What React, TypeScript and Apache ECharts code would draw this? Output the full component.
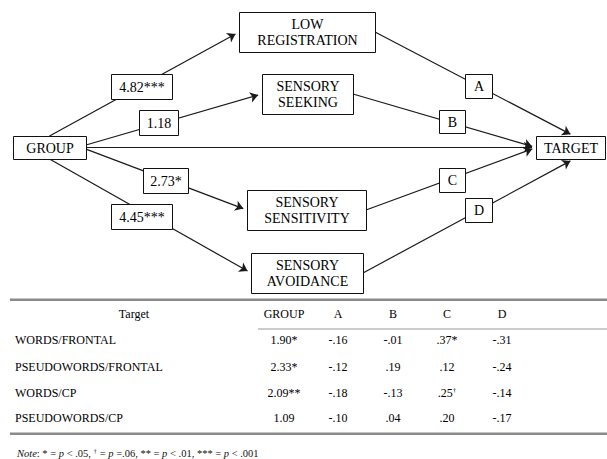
import React, { useEffect, useRef } from "react";
import * as echarts from "echarts";

// ---- Diagram content ----
const predictor = "GROUP";
const outcome = "TARGET";
const mediators = ["LOW\nREGISTRATION", "SENSORY\nSEEKING", "SENSORY\nSENSITIVITY", "SENSORY\nAVOIDANCE"];
const aPathLabels = ["4.82***", "1.18", "2.73*", "4.45***"];
const bPathLabels = ["A", "B", "C", "D"];

// ---- Table content ----
const tableHeader = ["Target", "GROUP", "A", "B", "C", "D"];
const tableTargets = ["WORDS/FRONTAL", "PSEUDOWORDS/FRONTAL", "WORDS/CP", "PSEUDOWORDS/CP"];
const groupCoef = ["1.90*", "2.33*", "2.09**", "1.09"];
const aCoef = ["-.16", "-.12", "-.18", "-.10"];
const bCoef = ["-.01", ".19", "-.13", ".04"];
const cCoef = [".37*", ".12", ".25†", ".20"];
const dCoef = ["-.31", "-.24", "-.14", "-.17"];

// ---- Layout (positions in diagram units = px) ----
const W = 607;
const H = 459;
const predictorBox = [13, 136, 73, 23];
const outcomeBox = [536, 136, 69, 23];
const mediatorBoxes = [
  [239, 12, 136, 40],
  [262, 74, 91, 40],
  [247, 190, 119, 40],
  [251, 253, 112, 40],
];
const aLabelBoxes = [
  [111, 74, 61, 25],
  [139, 110, 39, 25],
  [143, 168, 45, 25],
  [111, 204, 61, 25],
];
const bLabelBoxes = [
  [465, 74, 27, 24],
  [439, 110, 26, 23],
  [439, 168, 26, 24],
  [465, 198, 27, 24],
];
const aStart = [[0.5, 0], [1, 0.39], [1, 0.57], [0.5, 1]];
const bEnd = [[0.55, 0], [0, 0.5], [0, 0.5], [0.55, 1]];
const colX = [134, 284, 338, 393, 447, 502];
const rowLabelX = 15;
const headerY = 314;
const rowY = [340, 367, 393, 418];

const serif = "Liberation Serif";

function anchor(b: number[], f: number[]) {
  return [b[0] + b[2] * f[0], b[1] + b[3] * f[1]];
}
function shorten(p0: number[], p1: number[], d: number) {
  const dx = p1[0] - p0[0];
  const dy = p1[1] - p0[1];
  const L = Math.sqrt(dx * dx + dy * dy);
  return [p1[0] - (dx / L) * d, p1[1] - (dy / L) * d];
}

let measureCtx: CanvasRenderingContext2D | null = null;
function measure(text: string, size: number, style = "normal") {
  if (!measureCtx) measureCtx = document.createElement("canvas").getContext("2d");
  if (!measureCtx) return text.length * size * 0.5;
  measureCtx.font = `${style} ${size}px "${serif}"`;
  return measureCtx.measureText(text).width;
}

export default function App() {
  const ref = useRef<HTMLDivElement>(null);
  useEffect(() => {
    if (!ref.current) return;
    const chart = echarts.init(ref.current, undefined, { renderer: "svg" });
    const arrowLen = 8;

    const edges: number[][][] = [];
    mediators.forEach((_, i) => {
      const s = anchor(predictorBox, aStart[i]);
      const e = anchor(mediatorBoxes[i], [0, 0.5]);
      edges.push([s, shorten(s, e, arrowLen / 2)]);
    });
    {
      const s = anchor(predictorBox, [1, 0.48]);
      const e = anchor(outcomeBox, [0, 0.48]);
      edges.push([s, shorten(s, e, arrowLen / 2)]);
    }
    mediators.forEach((_, i) => {
      const s = anchor(mediatorBoxes[i], [1, 0.5]);
      const e = anchor(outcomeBox, bEnd[i]);
      edges.push([s, shorten(s, e, arrowLen / 2)]);
    });

    const boxData = [predictorBox, outcomeBox, ...mediatorBoxes, ...aLabelBoxes, ...bLabelBoxes];
    const boxLabels = [predictor, outcome, ...mediators, ...aPathLabels, ...bPathLabels];

    const rows = tableTargets.map((t, i) => [t, groupCoef[i], aCoef[i], bCoef[i], cCoef[i], dCoef[i]]);
    const graphics: any[] = [];
    graphics.push({ type: "rect", shape: { x: 10, y: 298.5, width: W - 10, height: 2.5 }, style: { fill: "#8a8a8a" } });
    graphics.push({ type: "rect", shape: { x: 258, y: 328.5, width: W - 258, height: 1 }, style: { fill: "#9a9a9a" } });
    graphics.push({ type: "rect", shape: { x: 10, y: 432.5, width: W - 10, height: 2.5 }, style: { fill: "#8a8a8a" } });

    const fs = 12;
    const lh = 14;
    const cell = (text: string, x: number, cy: number, center: boolean) => {
      const hasSup = text.indexOf("†") >= 0;
      const base = hasSup ? text.replace("†", "") : text;
      const w = measure(base, fs) + (hasSup ? measure("†", 7) : 0);
      const style: any = {
        text: hasSup ? base + "{sup|†}" : text,
        fontSize: fs,
        fontFamily: serif,
        lineHeight: lh,
        fill: "#000",
      };
      if (hasSup) style.rich = { sup: { fontSize: 7, fontFamily: serif, lineHeight: lh, padding: [0, 0, 6, 0], fill: "#000" } };
      graphics.push({ type: "text", x: center ? x - w / 2 : x, y: cy - lh / 2, style });
    };
    tableHeader.forEach((h, j) => cell(h, colX[j], headerY, true));
    rows.forEach((r, i) => r.forEach((v, j) => cell(v, j === 0 ? rowLabelX : colX[j], rowY[i], j !== 0)));

    graphics.push({
      type: "text",
      x: 17,
      y: 453 - 6.5,
      style: {
        text: "{i|Note}: * = {i|p} < .05, {s|†} = {i|p} =.06, ** = {i|p} < .01, *** = {i|p} < .001",
        fontSize: 10.5,
        fontFamily: serif,
        lineHeight: 13,
        fill: "#111",
        rich: {
          i: { fontStyle: "italic", fontSize: 10.5, fontFamily: serif, lineHeight: 13, fill: "#111" },
          s: { fontSize: 7, fontFamily: serif, lineHeight: 13, fill: "#111", padding: [0, 0, 5, 0] },
        },
      },
    });

    chart.setOption({
      animation: false,
      backgroundColor: "#fff",
      grid: { left: 0, right: 0, top: 0, bottom: 0, containLabel: false },
      xAxis: { type: "value", min: 0, max: W, show: false },
      yAxis: { type: "value", min: 0, max: H, inverse: true, show: false },
      series: [
        {
          type: "lines",
          coordinateSystem: "cartesian2d",
          z: 1,
          symbol: ["none", "arrow"],
          symbolSize: [4.5, arrowLen],
          lineStyle: { color: "#1a1a1a", width: 1.2, opacity: 1 },
          itemStyle: { color: "#1a1a1a" },
          silent: true,
          data: edges.map((c) => ({ coords: c })),
        },
        {
          type: "custom",
          coordinateSystem: "cartesian2d",
          z: 2,
          silent: true,
          encode: { x: 0, y: 1 },
          data: boxData,
          renderItem: (params: any, api: any) => {
            const x = api.value(0);
            const y = api.value(1);
            const w = api.value(2);
            const h = api.value(3);
            const p0 = api.coord([x, y]);
            const p1 = api.coord([x + w, y + h]);
            const label = boxLabels[params.dataIndex];
            const lines = label.split("\n");
            const lineH = 16;
            const cx = (p0[0] + p1[0]) / 2 + 0.5;
            const cy = (p0[1] + p1[1]) / 2 + 0.5;
            const children: any[] = [
              {
                type: "rect",
                shape: {
                  x: Math.round(p0[0]) + 0.5,
                  y: Math.round(p0[1]) + 0.5,
                  width: Math.round(p1[0] - p0[0]),
                  height: Math.round(p1[1] - p0[1]),
                },
                style: { fill: "#fff", stroke: "#111", lineWidth: 1 },
              },
            ];
            lines.forEach((ln: string, k: number) => {
              const tw = measure(ln, 14);
              children.push({
                type: "text",
                x: cx - tw / 2,
                y: cy - (lines.length * lineH) / 2 + k * lineH,
                style: { text: ln, fontSize: 14, fontFamily: serif, lineHeight: lineH, fill: "#000" },
              });
            });
            return { type: "group", children };
          },
        },
      ],
      graphic: { elements: graphics },
    });
    return () => chart.dispose();
  }, []);
  return (
    <div
      ref={ref}
      style={{ position: "fixed", left: 0, top: 0, width: W, height: H, background: "#fff" }}
    />
  );
}
